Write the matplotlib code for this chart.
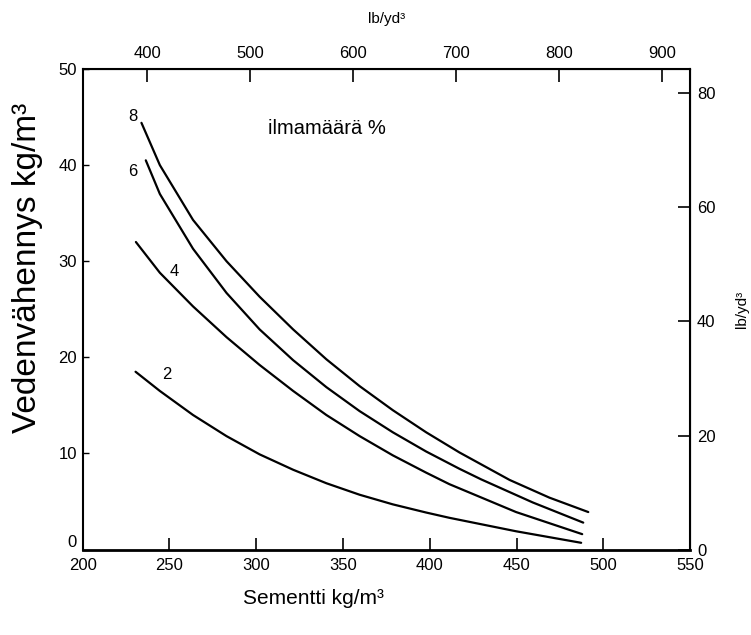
import matplotlib
matplotlib.use("Agg")
import matplotlib.pyplot as plt

plt.rcParams['font.family'] = ['Liberation Sans', 'DejaVu Sans']

# Cement content (kg/m3) and water reduction (kg/m3) for each air content (%)
cement_8 = [233.9, 244.5, 263.6, 282.9, 302.0, 321.3, 340.4, 359.6, 378.7, 397.9, 417.1, 446.0, 468.9, 491.3]
water_8  = [44.4, 40.0, 34.3, 30.0, 26.3, 22.9, 19.8, 17.0, 14.5, 12.2, 10.1, 7.24, 5.4, 3.9]

cement_6 = [236.4, 244.5, 263.6, 282.9, 302.0, 321.3, 340.4, 359.6, 378.7, 397.9, 417.1, 429.6, 459.3, 488.4]
water_6  = [40.5, 37.0, 31.3, 26.7, 22.9, 19.7, 16.9, 14.4, 12.2, 10.2, 8.4, 7.3, 4.9, 2.8]

cement_4 = [230.7, 244.5, 263.6, 282.9, 302.0, 321.3, 340.4, 359.6, 378.7, 397.9, 411.3, 449.7, 487.8]
water_4  = [32.0, 28.8, 25.3, 22.1, 19.2, 16.5, 14.0, 11.8, 9.8, 8.0, 6.8, 3.9, 1.6]

cement_2 = [230.5, 244.5, 263.6, 282.9, 302.0, 321.3, 340.4, 359.6, 378.7, 397.9, 411.3, 449.7, 487.2]
water_2  = [18.5, 16.5, 14.0, 11.8, 9.9, 8.3, 6.9, 5.7, 4.7, 3.85, 3.3, 1.9, 0.7]

curve_labels = ["8", "6", "4", "2"]
label_pos_x = [229.0, 229.0, 253.0, 248.5]
label_pos_y = [45.1, 39.3, 28.9, 18.2]

x_ticks = [200, 250, 300, 350, 400, 450, 500, 550]
y_ticks = [0, 10, 20, 30, 40, 50]
top_ticks = [400, 500, 600, 700, 800, 900]
right_ticks = [0, 20, 40, 60, 80]
KG_TO_LB = 1.6856

fig = plt.figure(figsize=(7.51, 6.35), dpi=100)
ax = fig.add_axes([0.110, 0.1346, 0.809, 0.7567])

for cx, wy in [(cement_8, water_8), (cement_6, water_6), (cement_4, water_4), (cement_2, water_2)]:
    ax.plot(cx, wy, color='black', lw=1.6, solid_capstyle='round', solid_joinstyle='round')

for lab, lx, ly in zip(curve_labels, label_pos_x, label_pos_y):
    ax.text(lx, ly, lab, fontsize=12, ha='center', va='center')

ax.text(341, 43.8, "ilmamäärä %", fontsize=14.5, ha='center', va='center')

ax.set_xlim(200, 550)
ax.set_ylim(0, 50)
ax.set_xticks(x_ticks)
ax.set_yticks(y_ticks)
ax.tick_params(axis='x', direction='in', length=9, width=1.2, labelsize=12, pad=6)
ax.tick_params(axis='y', direction='in', length=4, width=1.0, labelsize=12, pad=4)
for s in ax.spines.values():
    s.set_linewidth(1.5)
ax.spines['bottom'].set_linewidth(2.0)

fig.canvas.draw()
ax.get_yticklabels()[0].set_verticalalignment('bottom')

top = ax.secondary_xaxis('top', functions=(lambda k: k * KG_TO_LB, lambda l: l / KG_TO_LB))
top.set_xticks(top_ticks)
top.tick_params(direction='in', length=9, width=1.2, labelsize=12, pad=6)
top.set_xlabel("lb/yd³", fontsize=11, labelpad=16)

right = ax.secondary_yaxis('right', functions=(lambda k: k * KG_TO_LB, lambda l: l / KG_TO_LB))
right.set_yticks(right_ticks)
right.tick_params(direction='in', length=9, width=1.2, labelsize=12, pad=5)
right.set_ylabel("lb/yd³", fontsize=11, labelpad=14)

fig.text(28 / 751, 1 - 268 / 635, "Vedenvähennys kg/m³", rotation=90, fontsize=24,
         ha='center', va='center')
fig.text(313 / 751, 1 - 598 / 635, "Sementti kg/m³", fontsize=15, ha='center', va='center')

fig.savefig("out.png", dpi=100)
